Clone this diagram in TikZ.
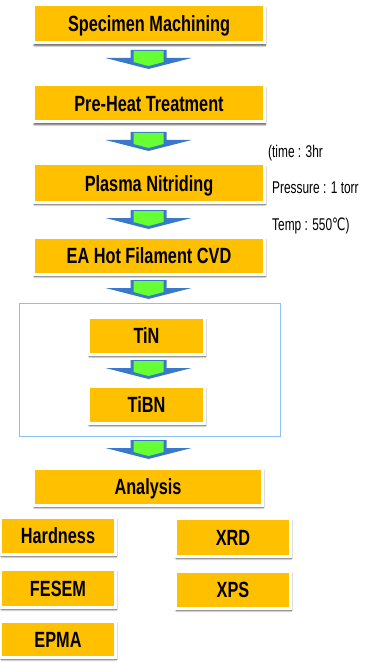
\documentclass[tikz,border=0pt]{standalone}
\usepackage{fontspec}
\setmainfont{Liberation Sans}
\newfontfamily\boxfont[FakeStretch=0.74]{Liberation Sans}
\newfontfamily\notefont[FakeStretch=0.70]{Liberation Sans}
\newfontfamily\symfont[FakeStretch=0.70]{DejaVu Sans}
\usetikzlibrary{shadows.blur}
\definecolor{boxorange}{HTML}{FFC000}
\definecolor{arrowblue}{HTML}{3A78C9}
\definecolor{arrowgreen}{HTML}{66FF33}
\definecolor{framblue}{HTML}{8CC0F5}
\tikzset{
  procbox/.style={fill=boxorange, draw=white, line width=3pt, inner sep=0pt,
    blur shadow={shadow xshift=0.8pt, shadow yshift=-2.5pt, shadow blur steps=6, shadow blur radius=2pt, shadow opacity=70},
    font=\boxfont\bfseries\fontsize{22}{24}\selectfont, text=black,
    text height=16pt, text depth=0pt,
    minimum height=38pt},
  wide/.style={procbox, minimum width=231pt},
  mid/.style={procbox, minimum width=116pt},
  small/.style={procbox, minimum width=115pt},
  note/.style={anchor=west, inner sep=0pt, font=\notefont\fontsize{17}{19}\selectfont, text=black},
  blockarrow/.pic={
    \fill[arrowblue] (-18,0) -- (18,0) -- (18,8) -- (43,8) -- (0,19) -- (-43,8) -- (-18,8) -- cycle;
    \fill[arrowgreen] (-15,1) -- (15,1) -- (15,12) -- (0,16) -- (-15,12) -- cycle;
  }
}
\begin{document}
\begin{tikzpicture}[x=1pt,y=-1pt]
\useasboundingbox (0,0) rectangle (367,663);
% frame
\draw[framblue, line width=1pt] (19,303) rectangle (280,436);
% main boxes
\node[wide] (b1) at (149,24) {Specimen Machining};
\node[wide, minimum height=37pt] (b2) at (149,103.5) {Pre-Heat Treatment};
\node[wide] (b3) at (149,183) {Plasma Nitriding};
\node[wide, minimum height=37pt] (b4) at (149,255.5) {EA Hot Filament CVD};
\node[mid, minimum height=37pt] (tin) at (146.5,335.5) {TiN};
\node[mid, minimum height=37pt] (tibn) at (146.5,404.5) {TiBN};
\node[wide, minimum width=229pt, minimum height=37pt] (an) at (148,486.5) {Analysis};
\node[small, minimum height=37pt] (hard) at (58,535.5) {Hardness};
\node[small] (fesem) at (58,588) {FESEM};
\node[small, minimum height=36pt] (epma) at (58,639) {EPMA};
\node[small] (xrd) at (233,537) {XRD};
\node[small, minimum height=37pt] (xps) at (233,589.5) {XPS};
% block arrows
\pic at (148.5,50) {blockarrow};
\pic at (148.5,132) {blockarrow};
\pic at (148.5,210) {blockarrow};
\pic at (148.5,280) {blockarrow};
\pic at (148.5,360) {blockarrow};
\pic at (148.5,440) {blockarrow};
% notes
\node[note] (n1) at (268,153) {(time : 3hr};
\node[note] (n2) at (272,188) {Pressure : 1 torr};
\node[note] (n3) at (272,226) {Temp : 550{\symfont ℃})};
\end{tikzpicture}
\end{document}
